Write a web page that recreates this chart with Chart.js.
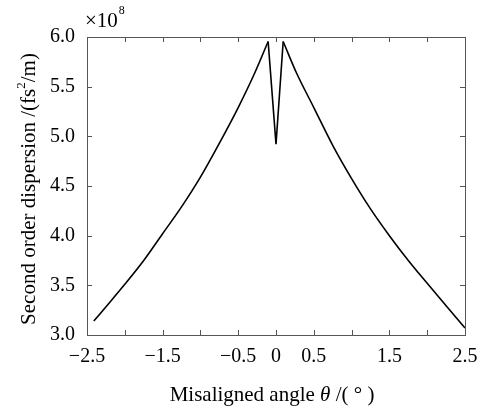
<!DOCTYPE html>
<html>
<head>
<meta charset="utf-8">
<script src="https://cdn.jsdelivr.net/npm/chart.js@4"></script>
<style>
  html, body { margin: 0; padding: 0; background: #fff; overflow: hidden; }
  #wrap { width: 483px; height: 406px; position: relative; }
</style>
</head>
<body>
<div id="wrap"><canvas id="c" width="483" height="406"></canvas></div>
<script>
// Misaligned angle (deg) and second order dispersion (x10^8 fs^2/m)
const leftTheta  = [-2.41, -2.22, -2.0, -1.75, -1.5, -1.25, -1.0, -0.75, -0.5, -0.28, -0.104];
const leftValues = [3.14, 3.31, 3.51, 3.75, 4.02, 4.29, 4.59, 4.93, 5.29, 5.64, 5.955];
const spikeTheta  = [-0.104, 0.0, 0.095];
const spikeValues = [5.955, 4.92, 5.955];
const rightTheta  = [0.095, 0.27, 0.5, 0.75, 1.0, 1.25, 1.5, 1.75, 2.0, 2.25, 2.5];
const rightValues = [5.955, 5.64, 5.29, 4.91, 4.575, 4.27, 4.0, 3.75, 3.52, 3.295, 3.07];
const xLabeled = [-2.5, -1.5, -0.5, 0, 0.5, 1.5, 2.5];
const FONT = "'Liberation Serif', 'Times New Roman', serif";

const toPts = (xs, ys) => xs.map((t, i) => ({ x: t, y: ys[i] }));
const lineStyle = { showLine: true, borderColor: '#000', borderWidth: 1.6, pointRadius: 0, fill: false };

const decor = {
  id: 'decor',
  afterDraw(chart) {
    const ctx = chart.ctx;
    const a = chart.chartArea;
    const xs = chart.scales.x, ys = chart.scales.y;
    ctx.save();
    ctx.strokeStyle = '#555';
    ctx.lineWidth = 1;
    ctx.strokeRect(Math.round(a.left) + 0.5, Math.round(a.top) + 0.5,
                   Math.round(a.right - a.left), Math.round(a.bottom - a.top));
    const L = 5;
    ctx.beginPath();
    xs.ticks.forEach(t => {
      const px = Math.round(xs.getPixelForValue(t.value)) + 0.5;
      ctx.moveTo(px, a.bottom); ctx.lineTo(px, a.bottom - L);
      ctx.moveTo(px, a.top); ctx.lineTo(px, a.top + L);
    });
    ys.ticks.forEach(t => {
      const py = Math.round(ys.getPixelForValue(t.value)) + 0.5;
      ctx.moveTo(a.left, py); ctx.lineTo(a.left + L, py);
      ctx.moveTo(a.right, py); ctx.lineTo(a.right - L, py);
    });
    ctx.stroke();

    ctx.fillStyle = '#000';
    ctx.textBaseline = 'alphabetic';
    ctx.textAlign = 'left';
    // x10^8
    ctx.font = '21px ' + FONT;
    ctx.fillText('\u00d710', 85, 27);
    const w = ctx.measureText('\u00d710').width;
    ctx.font = '12px ' + FONT;
    ctx.fillText('8', 85 + w + 1, 14);

    // x title
    const parts = [
      { t: 'Misaligned angle ', f: '21px ' + FONT },
      { t: '\u03b8', f: 'italic 21px ' + FONT },
      { t: ' /( \u00b0 )', f: '21px ' + FONT }
    ];
    let tw = 0;
    parts.forEach(p => { ctx.font = p.f; p.w = ctx.measureText(p.t).width; tw += p.w; });
    let x0 = 272 - tw / 2;
    parts.forEach(p => { ctx.font = p.f; ctx.fillText(p.t, x0, 401); x0 += p.w; });

    // y title (rotated)
    ctx.translate(35, 189);
    ctx.rotate(-Math.PI / 2);
    const yparts = [
      { t: 'Second order dispersion /(fs', f: '21px ' + FONT, dy: 0 },
      { t: '2', f: '13px ' + FONT, dy: -10 },
      { t: '/m)', f: '21px ' + FONT, dy: 0 }
    ];
    let yw = 0;
    yparts.forEach(p => { ctx.font = p.f; p.w = ctx.measureText(p.t).width; yw += p.w; });
    let y0 = -yw / 2;
    yparts.forEach(p => { ctx.font = p.f; ctx.fillText(p.t, y0, p.dy); y0 += p.w; });
    ctx.restore();
  }
};

new Chart(document.getElementById('c'), {
  type: 'scatter',
  data: {
    datasets: [
      Object.assign({ data: toPts(leftTheta, leftValues), cubicInterpolationMode: 'monotone' }, lineStyle),
      Object.assign({ data: toPts(spikeTheta, spikeValues), tension: 0 }, lineStyle),
      Object.assign({ data: toPts(rightTheta, rightValues), cubicInterpolationMode: 'monotone' }, lineStyle)
    ]
  },
  options: {
    responsive: false,
    animation: false,
    events: [],
    layout: { padding: { left: 0, right: 18, top: 37, bottom: 0 } },
    plugins: { legend: { display: false }, tooltip: { enabled: false } },
    scales: {
      x: {
        type: 'linear', min: -2.5, max: 2.5,
        afterFit(s) { s.height = 71; s.paddingLeft = 0; s.paddingRight = 0; },
        border: { display: false },
        grid: { display: false, drawTicks: false },
        ticks: {
          stepSize: 0.5, padding: 10, color: '#000', maxRotation: 0, autoSkip: false,
          font: { family: FONT, size: 20 },
          callback(v) {
            const r = Math.round(v * 10) / 10;
            if (!xLabeled.includes(r)) return '';
            if (r === 0) return '0';
            return (r < 0 ? '\u2212' : '') + Math.abs(r).toFixed(1);
          }
        }
      },
      y: {
        type: 'linear', min: 3.0, max: 6.0,
        afterFit(s) { s.width = 87; s.paddingTop = 0; s.paddingBottom = 0; },
        border: { display: false },
        grid: { display: false, drawTicks: false },
        ticks: {
          stepSize: 0.5, padding: 12, color: '#000',
          font: { family: FONT, size: 20 },
          callback(v) { return v.toFixed(1); }
        }
      }
    }
  },
  plugins: [decor]
});
</script>
</body>
</html>
